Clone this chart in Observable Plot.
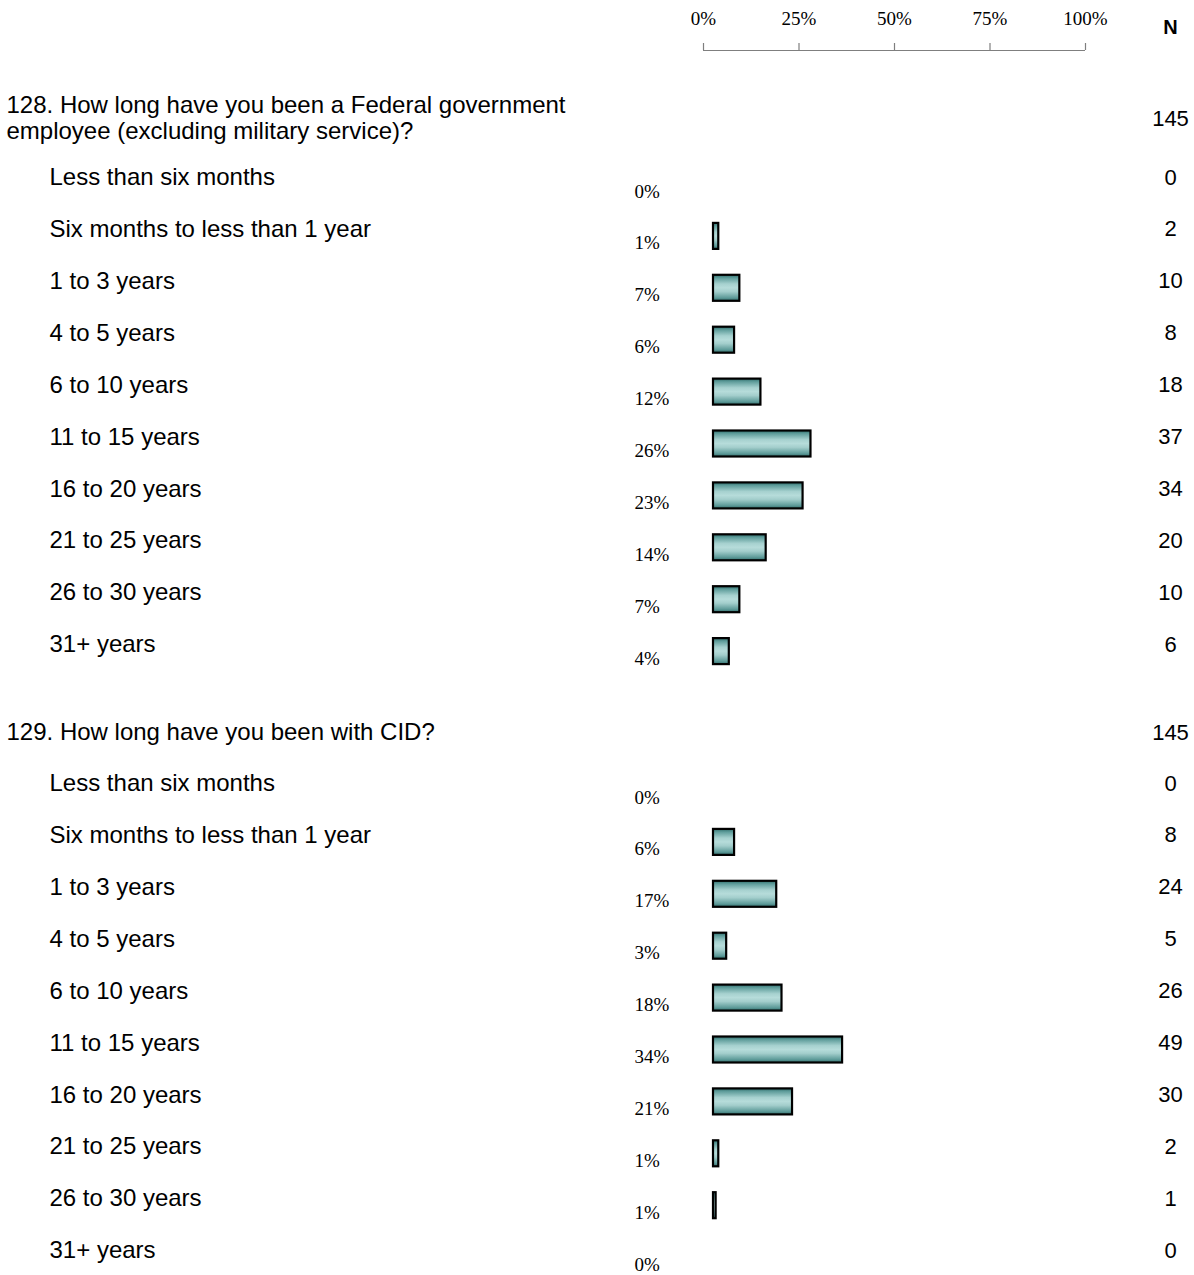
<!DOCTYPE html>
<html>
<head>
<meta charset="utf-8">
<script src="https://cdn.jsdelivr.net/npm/d3@7"></script>
<script src="https://cdn.jsdelivr.net/npm/@observablehq/plot@0.6"></script>
<style>
  html, body { margin: 0; padding: 0; background: #fff; }
  #chart { width: 1194px; height: 1275px; }
</style>
</head>
<body>
<div id="chart"></div>
<script>
// ---- data ----
const questions = [
  "128. How long have you been a Federal government\nemployee (excluding military service)?",
  "129. How long have you been with CID?"
];
const questionTotals = [145, 145];
const categories = [
  "Less than six months",
  "Six months to less than 1 year",
  "1 to 3 years",
  "4 to 5 years",
  "6 to 10 years",
  "11 to 15 years",
  "16 to 20 years",
  "21 to 25 years",
  "26 to 30 years",
  "31+ years"
];
const q128Counts = [0, 2, 10, 8, 18, 37, 34, 20, 10, 6];
const q128Percents = [0, 1, 7, 6, 12, 26, 23, 14, 7, 4];
const q129Counts = [0, 8, 24, 5, 26, 49, 30, 2, 1, 0];
const q129Percents = [0, 6, 17, 3, 18, 34, 21, 1, 1, 0];
const axisTicks = [0, 25, 50, 75, 100];

// ---- layout ----
const W = 1194, H = 1275;
const titleY = [117, 731];
const firstRowY = [177, 783];
const rowStep = 51.9;

const counts = [q128Counts, q129Counts];
const percents = [q128Percents, q129Percents];
const rows = [];
questions.forEach((q, qi) => {
  categories.forEach((c, i) => {
    rows.push({
      q: qi,
      label: c,
      n: counts[qi][i],
      pct: percents[qi][i],
      total: questionTotals[qi],
      y: firstRowY[qi] + rowStep * i
    });
  });
});
const titles = questions.map((t, i) => ({text: t, total: questionTotals[i], y: titleY[i]}));

const defs = () => {
  const d = d3.create("svg:defs");
  const g = d.append("linearGradient")
    .attr("id", "barGrad").attr("x1", 0).attr("y1", 0).attr("x2", 0).attr("y2", 1);
  [[0, "#2f6d6b"], [0.12, "#5f9d9b"], [0.35, "#a6d1cf"], [0.5, "#b6dcda"], [0.65, "#a3cecc"], [0.88, "#5f9c9a"], [1, "#336f6d"]]
    .forEach(([o, c]) => g.append("stop").attr("offset", o).attr("stop-color", c));
  return d.node();
};

const serif = "'Liberation Serif', 'Times New Roman', serif";
const sans = "'Liberation Sans', Arial, sans-serif";

const chart = Plot.plot({
  width: W,
  height: H,
  margin: 0,
  x: {domain: [0, 100], range: [703, 1085], axis: null},
  y: {type: "identity", axis: null},
  style: {fontFamily: sans, background: "#fff", color: "#000"},
  marks: [
    defs,
    // top axis
    Plot.ruleY([50], {x1: 0, x2: 100, stroke: "#7f7f7f", strokeWidth: 1.2}),
    Plot.ruleX(axisTicks, {x: d => d, y1: 43, y2: 50, stroke: "#7f7f7f", strokeWidth: 1.2}),
    Plot.text(axisTicks, {x: d => d, y: 18, text: d => d + "%", fontFamily: serif, fontSize: 19, fill: "#000"}),
    Plot.text(["N"], {frameAnchor: "right", dx: -24, y: 27, text: d => d, textAnchor: "middle", fontWeight: "bold", fontSize: 20, fill: "#000"}),
    // question titles and totals
    Plot.text(titles, {frameAnchor: "left", dx: 6, y: "y", text: "text", textAnchor: "start", lineHeight: 1.09, fontSize: 24, fill: "#000"}),
    Plot.text(titles, {frameAnchor: "right", dx: -24, y: d => d.y + 1, text: d => String(d.total), textAnchor: "middle", fontSize: 22, fill: "#000"}),
    // category labels
    Plot.text(rows, {frameAnchor: "left", dx: 49, y: "y", text: "label", textAnchor: "start", fontSize: 24, fill: "#000"}),
    // percent labels
    Plot.text(rows, {x: 0, dx: -69, y: d => d.y + 14, text: d => d.pct + "%", textAnchor: "start", fontFamily: serif, fontSize: 19, fill: "#000"}),
    // counts
    Plot.text(rows, {frameAnchor: "right", dx: -24, y: "y", text: d => String(d.n), textAnchor: "middle", fontSize: 22, fill: "#000"}),
    // bars
    Plot.rect(rows.filter(d => d.n > 0), {
      x1: 0,
      x2: d => d.n / d.total * 100,
      y1: d => d.y + 7 - 13,
      y2: d => d.y + 7 + 13,
      dx: 10,
      fill: "url(#barGrad)",
      stroke: "#000",
      strokeWidth: 2.2
    })
  ]
});
document.getElementById("chart").appendChild(chart);
</script>
</body>
</html>
